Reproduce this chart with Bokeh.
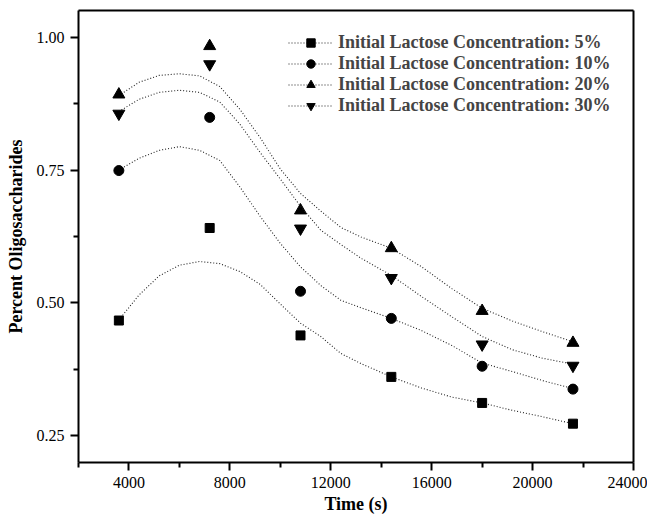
from bokeh.plotting import figure
from bokeh.models import Range1d, FixedTicker, NumeralTickFormatter, LinearAxis
from bokeh.embed import file_html
from bokeh.resources import INLINE

# measured points
time_s = [3600, 7200, 10800, 14400, 18000, 21600]
lac5 = [0.467, 0.641, 0.439, 0.361, 0.312, 0.273]
lac10 = [0.749, 0.849, 0.522, 0.471, 0.381, 0.338]
lac20 = [0.892, 0.983, 0.674, 0.603, 0.485, 0.425]
lac30 = [0.856, 0.949, 0.640, 0.547, 0.422, 0.382]

# fitted curves
fit_t = [3600, 4400, 5200, 6000, 6800, 7600, 8400, 9200, 10000, 10800,
         11600, 12400, 13200, 14400, 15600, 16800, 18000, 19200, 20400, 21600]
fit5 = [0.468, 0.515, 0.551, 0.571, 0.578, 0.574, 0.559, 0.535, 0.498, 0.462,
        0.437, 0.405, 0.386, 0.361, 0.340, 0.323, 0.312, 0.298, 0.286, 0.273]
fit10 = [0.750, 0.772, 0.787, 0.794, 0.787, 0.768, 0.718, 0.663, 0.612, 0.568,
         0.533, 0.505, 0.491, 0.471, 0.448, 0.420, 0.387, 0.371, 0.354, 0.339]
fit20 = [0.890, 0.915, 0.928, 0.931, 0.927, 0.907, 0.864, 0.811, 0.752, 0.706,
         0.673, 0.642, 0.624, 0.603, 0.568, 0.527, 0.490, 0.466, 0.446, 0.427]
fit30 = [0.860, 0.883, 0.896, 0.900, 0.896, 0.878, 0.836, 0.783, 0.733, 0.682,
         0.637, 0.610, 0.584, 0.552, 0.512, 0.474, 0.437, 0.412, 0.396, 0.385]

labels = ["Initial Lactose Concentration: 5%",
          "Initial Lactose Concentration: 10%",
          "Initial Lactose Concentration: 20%",
          "Initial Lactose Concentration: 30%"]

FONT = "Liberation Serif"

p = figure(width=647, height=517, output_backend="svg", toolbar_location=None,
           x_range=Range1d(2000, 24000), y_range=Range1d(0.2, 1.05),
           x_axis_label="Time (s)", y_axis_label="Percent Oligosaccharides",
           min_border_left=78, min_border_right=14, min_border_top=10,
           min_border_bottom=55)
p.grid.visible = False
p.outline_line_color = None

series = [(fit5, lac5, "square", 9), (fit10, lac10, "circle", 10),
          (fit20, lac20, "triangle", 12), (fit30, lac30, "inverted_triangle", 12)]
for (fit, pts, marker, sz), lab in zip(series, labels):
    p.line(fit_t, fit, line_color="#222222", line_width=1.1, line_dash="1 2",
           legend_label=lab)
    p.scatter(time_s, pts, marker=marker, size=sz, color="black",
              legend_label=lab)

p.xaxis.ticker = FixedTicker(ticks=[4000, 8000, 12000, 16000, 20000, 24000],
                             minor_ticks=[2000, 6000, 10000, 14000, 18000, 22000])
p.yaxis.ticker = FixedTicker(ticks=[0.25, 0.5, 0.75, 1.0],
                             minor_ticks=[0.375, 0.625, 0.875])
p.yaxis.formatter = NumeralTickFormatter(format="0.00")

for ax in (p.xaxis[0], p.yaxis[0]):
    ax.axis_line_width = 2
    ax.major_tick_line_width = 2
    ax.minor_tick_line_width = 2
    ax.major_tick_in = 0
    ax.major_tick_out = 8
    ax.minor_tick_in = 0
    ax.minor_tick_out = 5
    ax.major_label_standoff = 6
    ax.major_label_text_font = FONT
    ax.major_label_text_font_size = "16px"
    ax.major_label_text_color = "black"
    ax.axis_label_text_font = FONT
    ax.axis_label_text_font_size = "18px"
    ax.axis_label_text_font_style = "bold"
    ax.axis_label_text_color = "black"
p.xaxis.axis_label_standoff = 3
p.yaxis.axis_label_standoff = 8

# plain frame lines on top and right
for side in ("above", "right"):
    edge = LinearAxis(ticker=FixedTicker(ticks=[]), axis_line_width=2,
                      major_tick_out=0, minor_tick_out=0,
                      major_label_text_font_size="0px")
    p.add_layout(edge, side)

leg = p.legend[0]
leg.location = (210, 346)
leg.margin = 0
leg.padding = 0
leg.spacing = 0
leg.border_line_color = None
leg.background_fill_alpha = 0
leg.glyph_width = 45
leg.glyph_height = 21
leg.label_height = 21
leg.label_standoff = 5
leg.label_text_font = FONT
leg.label_text_font_size = "18px"
leg.label_text_font_style = "bold"

open("out.html", "w").write(file_html(p, INLINE))
